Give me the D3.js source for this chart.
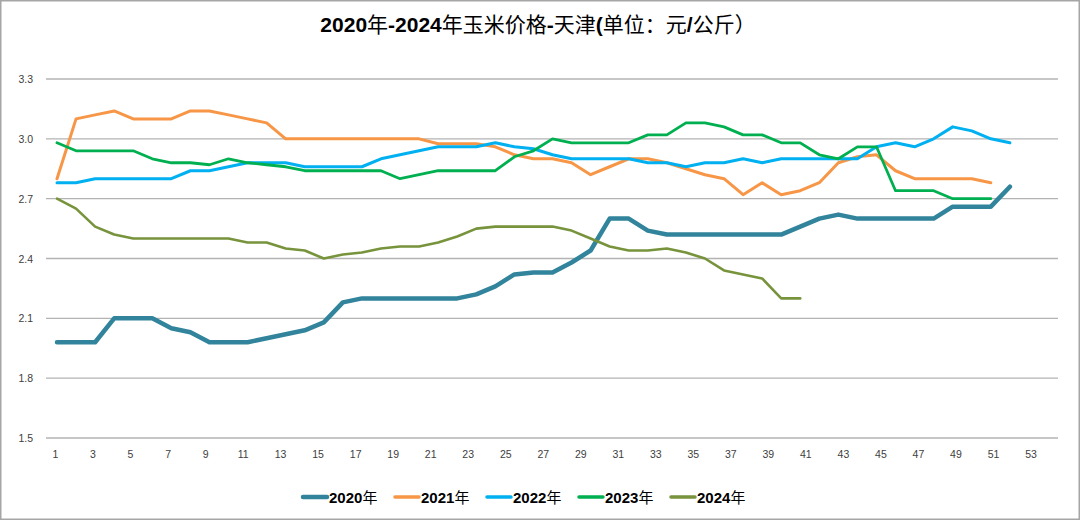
<!DOCTYPE html>
<html>
<head>
<meta charset="utf-8">
<script src="https://cdn.jsdelivr.net/npm/d3@7"></script>
<style>
  body { margin: 0; background: #fff; }
  svg { display: block; }
  .grid line { stroke: #b3b3b3; stroke-width: 1.3; }
  .tick-text { font-family: "Liberation Sans", "DejaVu Sans", sans-serif; font-size: 10.5px; fill: #404040; }
</style>
</head>
<body>
<div id="chart"></div>
<script>
// weeks and prices
var weeks = d3.range(1, 54);
var xTicks = d3.range(1, 54, 2);
var yTicks = [1.5, 1.8, 2.1, 2.4, 2.7, 3.0, 3.3];

var p2020 = [1.98,1.98,1.98,2.10,2.10,2.10,2.05,2.03,1.98,1.98,1.98,2.00,2.02,2.04,2.08,2.18,2.20,2.20,2.20,2.20,2.20,2.20,2.22,2.26,2.32,2.33,2.33,2.38,2.44,2.60,2.60,2.54,2.52,2.52,2.52,2.52,2.52,2.52,2.52,2.56,2.60,2.62,2.60,2.60,2.60,2.60,2.60,2.66,2.66,2.66,2.76];
var p2021 = [2.80,3.10,3.12,3.14,3.10,3.10,3.10,3.14,3.14,3.12,3.10,3.08,3.00,3.00,3.00,3.00,3.00,3.00,3.00,3.00,2.975,2.975,2.975,2.96,2.92,2.90,2.90,2.88,2.82,2.86,2.90,2.90,2.88,2.85,2.82,2.80,2.72,2.78,2.72,2.74,2.78,2.88,2.91,2.92,2.84,2.80,2.80,2.80,2.80,2.78];
var p2022 = [2.78,2.78,2.80,2.80,2.80,2.80,2.80,2.84,2.84,2.86,2.88,2.88,2.88,2.86,2.86,2.86,2.86,2.90,2.92,2.94,2.96,2.96,2.96,2.98,2.96,2.95,2.92,2.90,2.90,2.90,2.90,2.88,2.88,2.86,2.88,2.88,2.90,2.88,2.90,2.90,2.90,2.90,2.90,2.96,2.98,2.96,3.00,3.06,3.04,3.00,2.98];
var p2023 = [2.98,2.94,2.94,2.94,2.94,2.90,2.88,2.88,2.87,2.90,2.88,2.87,2.86,2.84,2.84,2.84,2.84,2.84,2.80,2.82,2.84,2.84,2.84,2.84,2.91,2.94,3.00,2.98,2.98,2.98,2.98,3.02,3.02,3.08,3.08,3.06,3.02,3.02,2.98,2.98,2.92,2.90,2.96,2.96,2.74,2.74,2.74,2.70,2.70,2.70];
var p2024 = [2.70,2.65,2.56,2.52,2.50,2.50,2.50,2.50,2.50,2.50,2.48,2.48,2.45,2.44,2.40,2.42,2.43,2.45,2.46,2.46,2.48,2.51,2.55,2.56,2.56,2.56,2.56,2.54,2.50,2.46,2.44,2.44,2.45,2.43,2.40,2.34,2.32,2.30,2.20,2.20];

var seriesNames = ['2020年','2021年','2022年','2023年','2024年'];
var seriesData = [p2020, p2021, p2022, p2023, p2024];
var colors = ['#31849b','#f79646','#00b0f0','#00b050','#77933c'];
var widths = [4.5, 3, 3, 2.8, 2.6];

var W = 1080, H = 520;

var svg = d3.select('#chart').append('svg')
  .attr('width', W)
  .attr('height', H);

// outer frame
svg.append('rect')
  .attr('x', 0.75).attr('y', 0.75)
  .attr('width', W - 1.5).attr('height', H - 1.5)
  .attr('fill', '#fff')
  .attr('stroke', '#a6a6a6')
  .attr('stroke-width', 1.5);

var x = d3.scaleLinear().domain([1, 53]).range([57, 1048]);
var xLabel = d3.scaleLinear().domain([1, 53]).range([55.5, 1031]);
var y = d3.scaleLinear().domain([1.5, 3.3]).range([438, 79]);

// title
var title = svg.append('text')
  .attr('x', 538).attr('y', 32)
  .attr('text-anchor', 'middle')
  .style('font-family', '"Liberation Sans", "Noto Sans CJK SC", sans-serif')
  .style('font-size', '21px')
  .style('fill', '#000');
[['2020', 1], ['年', 0], ['-2024', 1], ['年玉米价格', 0], ['-', 1], ['天津', 0], ['(', 1], ['单位：元', 0], ['/', 1], ['公斤）', 0]]
  .forEach(function(p) {
    title.append('tspan')
      .text(p[0])
      .style('font-weight', p[1] ? 'bold' : 'normal')
      .style('font-family', p[1] ? '"Liberation Sans", sans-serif' : '"Noto Sans CJK SC", sans-serif');
  });

// horizontal grid
svg.append('g').attr('class', 'grid')
  .selectAll('line')
  .data(yTicks)
  .enter().append('line')
    .attr('x1', 46).attr('x2', 1058)
    .attr('y1', function(d) { return y(d); })
    .attr('y2', function(d) { return y(d); });

// y labels
svg.append('g')
  .selectAll('text')
  .data(yTicks)
  .enter().append('text')
    .attr('class', 'tick-text')
    .attr('x', 33)
    .attr('y', function(d) { return y(d) + 4; })
    .attr('text-anchor', 'end')
    .text(function(d) { return d.toFixed(1); });

// x labels
svg.append('g')
  .selectAll('text')
  .data(xTicks)
  .enter().append('text')
    .attr('class', 'tick-text')
    .attr('x', function(d) { return xLabel(d); })
    .attr('y', 458)
    .attr('text-anchor', 'middle')
    .text(function(d) { return d; });

// lines
var line = d3.line()
  .x(function(d, i) { return x(weeks[i]); })
  .y(function(d) { return y(d); });

seriesData.forEach(function(s, k) {
  svg.append('path')
    .datum(s)
    .attr('d', line)
    .attr('fill', 'none')
    .attr('stroke', colors[k])
    .attr('stroke-width', widths[k])
    .attr('stroke-linejoin', 'round')
    .attr('stroke-linecap', 'round');
});

// legend
var legend = svg.append('g').attr('transform', 'translate(303,497)');
seriesNames.forEach(function(name, k) {
  var g = legend.append('g').attr('transform', 'translate(' + (k * 92) + ',0)');
  g.append('line')
    .attr('x1', 0).attr('x2', 24)
    .attr('y1', 0).attr('y2', 0)
    .attr('stroke', colors[k])
    .attr('stroke-width', k === 0 ? 4.5 : 3.5)
    .attr('stroke-linecap', 'round');
  var t = g.append('text')
    .attr('x', 26).attr('y', 5.5)
    .style('font-size', '15px')
    .style('fill', '#000');
  t.append('tspan').text(name.slice(0, 4))
    .style('font-weight', 'bold')
    .style('font-family', '"Liberation Sans", sans-serif');
  t.append('tspan').text(name.slice(4))
    .style('font-family', '"Noto Sans CJK SC", sans-serif');
});
</script>
</body>
</html>
